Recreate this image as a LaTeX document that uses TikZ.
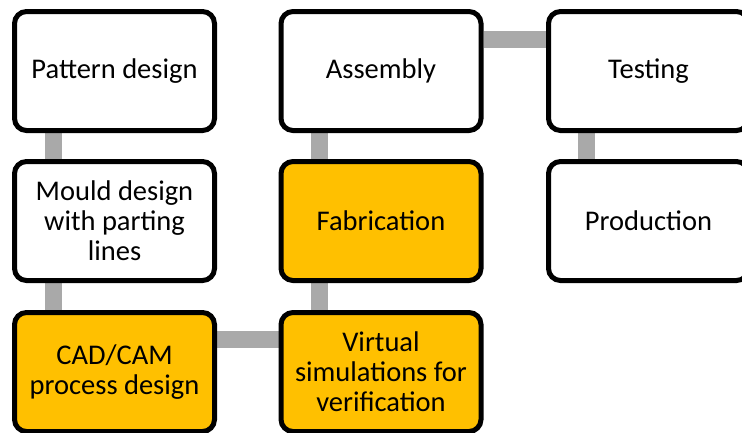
\documentclass[tikz,border=0pt]{standalone}
\usepackage{fontspec}
\setmainfont{Carlito}
\usetikzlibrary{backgrounds}
\definecolor{stagegold}{HTML}{FFC000}
\definecolor{linkgray}{HTML}{A9A9A9}
\tikzset{
  stagebox/.style={draw=black, line width=5pt, rounded corners=12pt,
    fill=white, minimum width=200pt, minimum height=119pt,
    align=center, inner sep=2pt,
    font=\fontsize{28.5}{30}\selectfont},
  goldbox/.style={stagebox, fill=stagegold},
  link/.style={draw=linkgray, line width=17pt}
}
\begin{document}
\begin{tikzpicture}[x=1pt, y=-1pt]
  \useasboundingbox (0,0) rectangle (742,432);

  % first column
  \node[stagebox] (pattern) at (114.5,71)  {Pattern design};
  \node[stagebox] (mould)   at (114.5,221) {Mould design\\with parting\\lines};
  \node[goldbox]  (cadcam)  at (114.5,372) {CAD/CAM\\process design};

  % second column
  \node[stagebox] (assembly) at (381,71)  {Assembly};
  \node[goldbox]  (fab)      at (381,221) {Fabrication};
  \node[goldbox]  (virtual)  at (381,372) {Virtual\\simulations for\\verification};

  % third column
  \node[stagebox] (testing)    at (648.5,71)  {Testing};
  \node[stagebox] (production) at (648.5,221) {Production};

  % white page and connectors behind the boxes
  \begin{scope}[on background layer]
    \fill[white] (0,0) rectangle (742,432);
    \draw[link] ([xshift=41pt]pattern.south west) -- ([xshift=41pt]pattern.south west |- mould.north);
    \draw[link] ([xshift=41pt]mould.south west) -- ([xshift=41pt]mould.south west |- cadcam.north);
    \draw[link] ([yshift=-29pt]cadcam.north east) -- ([yshift=-29pt]cadcam.north east -| virtual.west);
    \draw[link] ([xshift=41pt]virtual.north west) -- ([xshift=41pt]virtual.north west |- fab.south);
    \draw[link] ([xshift=41pt]fab.north west) -- ([xshift=41pt]fab.north west |- assembly.south);
    \draw[link] ([yshift=-30pt]assembly.north east) -- ([yshift=-30pt]assembly.north east -| testing.west);
    \draw[link] ([xshift=40pt]testing.south west) -- ([xshift=40pt]testing.south west |- production.north);
  \end{scope}
\end{tikzpicture}
\end{document}
